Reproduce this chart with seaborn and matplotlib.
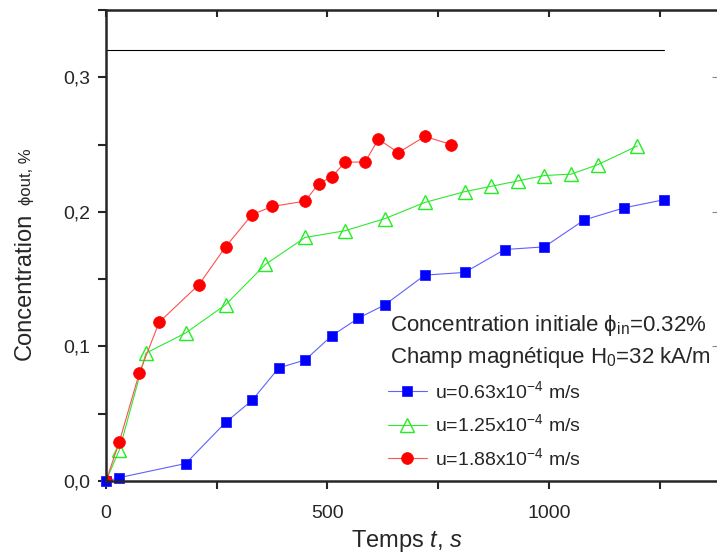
import numpy as np
import pandas as pd
import matplotlib
matplotlib.use("Agg")
import matplotlib.pyplot as plt
import seaborn as sns
from matplotlib.ticker import MultipleLocator, FuncFormatter

# data: time (s) vs outlet concentration (%)
t_063 = [0, 30, 180, 270, 330, 390, 450, 510, 570, 630, 720, 810, 900, 990, 1080, 1170, 1260]
c_063 = [0, 0.0025, 0.013, 0.0435, 0.060, 0.084, 0.090, 0.108, 0.121, 0.131, 0.153, 0.155,
         0.172, 0.174, 0.194, 0.203, 0.209]
t_125 = [0, 30, 90, 180, 270, 360, 450, 540, 630, 720, 810, 870, 930, 990, 1050, 1110, 1200]
c_125 = [0, 0.023, 0.095, 0.110, 0.131, 0.161, 0.181, 0.186, 0.195, 0.207, 0.215, 0.219,
         0.223, 0.227, 0.228, 0.235, 0.249]
t_188 = [0, 30, 75, 120, 210, 270, 330, 375, 450, 480, 510, 540, 585, 615, 660, 720, 780]
c_188 = [0, 0.029, 0.080, 0.118, 0.146, 0.174, 0.198, 0.204, 0.208, 0.221, 0.226, 0.237,
         0.237, 0.254, 0.244, 0.256, 0.250]
phi_in = 0.32
t_phi_in = [0, 1260]

labels = [r"u=0.63x10$^{\mathregular{-4}}$ m/s",
          r"u=1.25x10$^{\mathregular{-4}}$ m/s",
          r"u=1.88x10$^{\mathregular{-4}}$ m/s"]

sns.set_style("ticks")
plt.rcParams['font.family'] = ['Liberation Sans', 'DejaVu Sans']
plt.rcParams['mathtext.fontset'] = 'custom'
plt.rcParams['mathtext.rm'] = 'Liberation Sans'
plt.rcParams['mathtext.it'] = 'Liberation Sans:italic'

fig = plt.figure(figsize=(7.17, 5.58), dpi=100)
ax = fig.add_axes([106 / 717, 77 / 558, 620 / 717, 471 / 558])

ax.plot(t_phi_in, [phi_in, phi_in], color='black', lw=0.8)

sns.lineplot(x=t_063, y=c_063, ax=ax, color='#6060ff', lw=0.8, marker='s', ms=7,
             mfc='#0000ff', mec='#2020ff', mew=0.6, label=labels[0], clip_on=False)
sns.lineplot(x=t_125, y=c_125, ax=ax, color='#30e830', lw=0.8, marker='^', ms=9.5,
             mfc='none', mec='#22ee22', mew=1.0, label=labels[1])
sns.lineplot(x=t_188, y=c_188, ax=ax, color='#ff5050', lw=0.8, marker='o', ms=8.5,
             mfc='#ff0000', mec='#ff0000', mew=0.5, label=labels[2])

ax.set_xlim(0, 1400)
ax.set_ylim(0, 0.35)

ax.xaxis.set_major_locator(MultipleLocator(250))
ax.xaxis.set_major_formatter(FuncFormatter(lambda v, p: f"{v:.0f}" if v % 500 == 0 else ""))
ax.yaxis.set_major_locator(MultipleLocator(0.05))
ax.yaxis.set_major_formatter(FuncFormatter(
    lambda v, p: f"{v:.1f}".replace('.', ',') if abs(v * 10 - round(v * 10)) < 1e-6 else ""))
ax.tick_params(axis='both', direction='out', length=6, width=1.5, labelsize=14)
ax.tick_params(axis='x', pad=11)
ax.tick_params(axis='y', pad=5)

for side in ['left', 'bottom', 'top']:
    ax.spines[side].set_linewidth(1.8)
ax.spines['right'].set_linewidth(1.0)

top = ax.secondary_xaxis('top')
top.xaxis.set_major_locator(MultipleLocator(250))
top.tick_params(direction='in', length=5, width=1.5, labelsize=0)
top.set_xticklabels([])
right = ax.secondary_yaxis('right')
right.yaxis.set_major_locator(MultipleLocator(0.1))
right.tick_params(direction='in', length=10, width=0.8, colors='#888888')
right.set_yticklabels([])

ax.set_xlabel(r"Temps $\mathit{t}$, $\mathit{s}$", fontsize=17)
ax.xaxis.label.set_va('center')
ax.xaxis.set_label_coords(0.485, -0.128)

# legend: two header lines + three series
fig.text(390 / 717, 1 - 325 / 558, r"Concentration initiale ϕ$_{\mathregular{in}}$=0.32%",
         fontsize=16, va='center', ha='left')
fig.text(390 / 717, 1 - 358 / 558, r"Champ magnétique H$_{\mathregular{0}}$=32 kA/m",
         fontsize=16, va='center', ha='left')
ax.legend(loc='upper left', bbox_to_anchor=(388 / 717, 1 - 380 / 558),
          bbox_transform=fig.transFigure, frameon=False, fontsize=14,
          borderpad=0, borderaxespad=0, handlelength=2.0, handletextpad=0.4,
          labelspacing=0.6)

# y label: large "Concentration" followed by small "ϕout, %"
y1 = fig.text(31 / 717, 1 - 360 / 558, "Concentration", fontsize=17, rotation=90,
              rotation_mode='anchor', ha='left', va='baseline')
fig.canvas.draw()
ext = y1.get_window_extent()
fig.text(31 / 717, (ext.y1 + 8) / fig.bbox.height, "ϕout, %", fontsize=12, rotation=90,
         rotation_mode='anchor', ha='left', va='baseline')

fig.savefig("out.png", dpi=100)
